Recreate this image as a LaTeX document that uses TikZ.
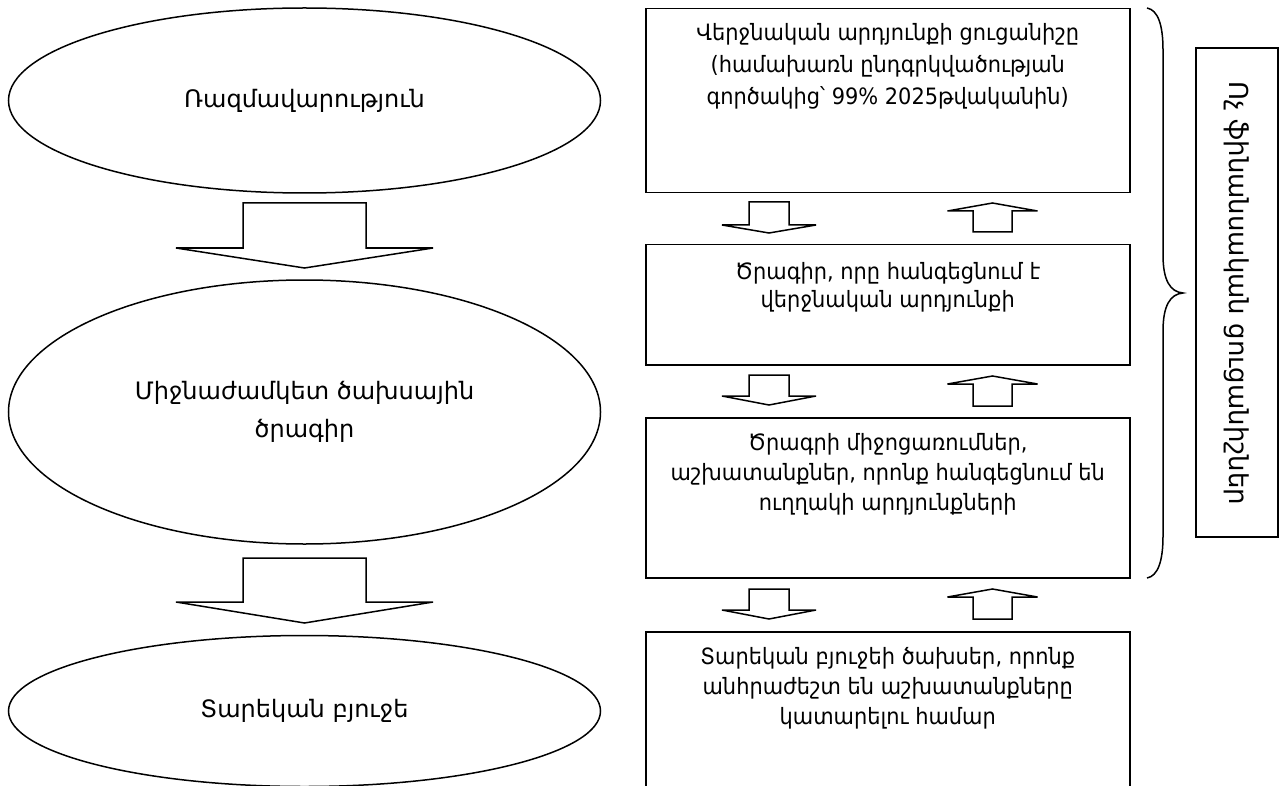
\documentclass[tikz,border=0pt]{standalone}
\usepackage{fontspec}
\setmainfont{DejaVu Sans}
\newfontfamily\boxfont[FakeStretch=0.93]{DejaVu Sans}
\usetikzlibrary{shapes.geometric}
\newcommand{\BlkArrow}[6]{% cx, base, shoulder, tip, half shaft, half head
  \draw[blk] ({#1-#5},#2) -- ({#1+#5},#2) -- ({#1+#5},#3) -- ({#1+#6},#3)
    -- (#1,#4) -- ({#1-#6},#3) -- ({#1-#5},#3) -- cycle;}
\begin{document}
\begin{tikzpicture}[x=1pt,y=-1pt,
  every node/.style={text=black},
  oval/.style={ellipse, draw=black, line width=1.5pt, inner sep=0pt, font=\fontsize{24}{38}\selectfont},
  box/.style={rectangle, draw=black, line width=1.5pt, inner sep=0pt, anchor=north west},
  boxtext/.style={align=center, inner sep=0pt, anchor=north, font=\boxfont\fontsize{22.5}{30}\selectfont},
  blk/.style={draw=black, line width=1.5pt, fill=white, line join=miter},
  brc/.style={draw=black, line width=1.5pt}]
\useasboundingbox[fill=white] (0,0) rectangle (1281,786);

% left ellipses
\node[oval, minimum width=592pt, minimum height=185pt] (e1) at (304.5,100.5) {Ռազմավարություն};
\node[oval, minimum width=592pt, minimum height=264pt, align=center] (e2) at (304.5,412)
  {Միջնաժամկետ ծախսային\\ծրագիր};
\node[oval, minimum width=592pt, minimum height=151pt] (e3) at (304.5,711) {Տարեկան բյուջե};

\BlkArrow{304.5}{203}{248}{268}{61.5}{128.5}
\BlkArrow{304.5}{558}{602}{623}{61.5}{128.5}

% right boxes
\node[box, minimum width=484pt, minimum height=184pt] (b1) at (645,8) {};
\node[boxtext, font=\boxfont\fontsize{22.5}{32}\selectfont] (t1) at ([yshift=-15pt]b1.north)
  {Վերջնական արդյունքի ցուցանիշը\\(համախառն ընդգրկվածության\\գործակից՝ 99\% 2025թվականին)};
\node[box, minimum width=484pt, minimum height=120pt] (b2) at (645,244) {};
\node[boxtext, font=\boxfont\fontsize{22.5}{28}\selectfont] (t2) at ([yshift=-18pt]b2.north)
  {Ծրագիր, որը հանգեցնում է\\վերջնական արդյունքի};
\node[box, minimum width=484pt, minimum height=160pt] (b3) at (645,417) {};
\node[boxtext] (t3) at ([yshift=-16pt]b3.north)
  {Ծրագրի միջոցառումներ,\\աշխատանքներ, որոնք հանգեցնում են\\ուղղակի արդյունքների};
\node[box, minimum width=484pt, minimum height=160pt] (b4) at (645,631) {};
\node[boxtext] (t4) at ([yshift=-16pt]b4.north)
  {Տարեկան բյուջեի ծախսեր, որոնք\\անհրաժեշտ են աշխատանքները\\կատարելու համար};

\BlkArrow{769}{202}{225}{233}{20}{47}
\BlkArrow{769}{375}{396}{405}{20}{47}
\BlkArrow{769}{589}{610}{619}{20}{47}
\BlkArrow{992.5}{232}{211}{203}{19.5}{45}
\BlkArrow{992.5}{406}{384}{376}{19.5}{45}
\BlkArrow{992.5}{619}{597}{589}{19.5}{45}

% brace
\coordinate (bt) at (1147,8);
\coordinate (bb) at (1147,578);
\coordinate (tip) at (1183,293);
\draw[brc] (bt) .. controls (1158,10) and (1163,25) .. (1163,50) -- (1163,255)
  .. controls (1163,280) and (1170,292) .. (tip)
  .. controls (1170,294) and (1163,306) .. (1163,331) -- (1163,536)
  .. controls (1163,561) and (1158,576) .. (bb);

% vertical box
\node[rectangle, draw=black, line width=1.5pt, minimum width=82pt, minimum height=489pt,
      inner sep=0pt] (vb) at (1237,292.5) {};
\node[rotate=-90, inner sep=0pt, font=\fontsize{26}{30}\selectfont] (vt) at (1237,293.5)
  {Ոչ ֆինանսական ցուցանիշներ};
\end{tikzpicture}
\end{document}
